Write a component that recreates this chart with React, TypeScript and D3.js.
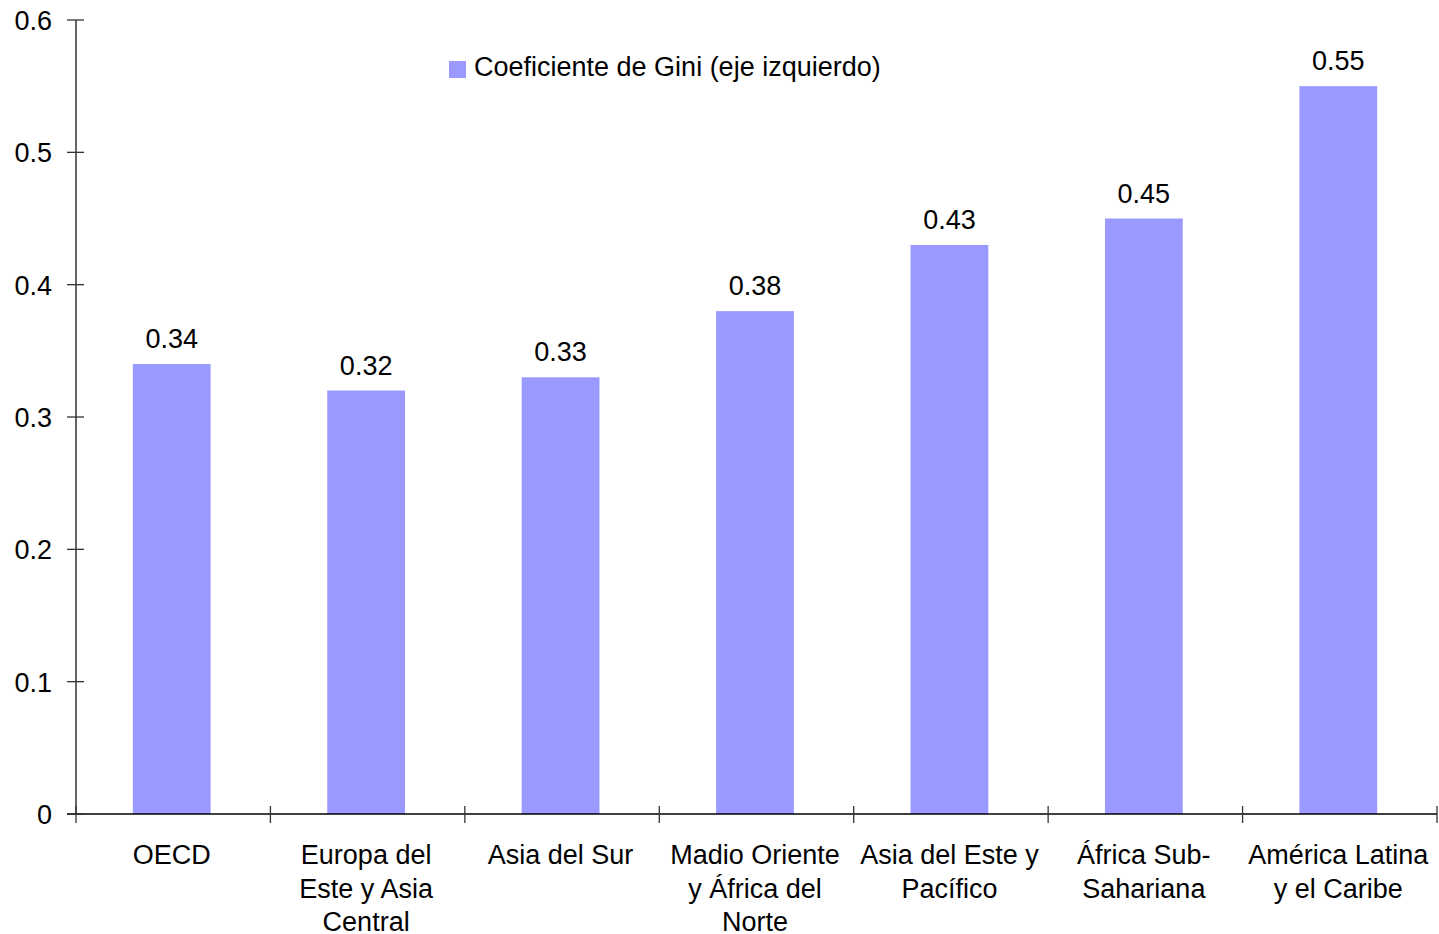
import React from "react";
import * as d3 from "d3";

const categories = [
  "OECD",
  "Europa del Este y Asia Central",
  "Asia del Sur",
  "Madio Oriente y África del Norte",
  "Asia del Este y Pacífico",
  "África Sub-Sahariana",
  "América Latina y el Caribe",
];
const categoryLines = [
  ["OECD"],
  ["Europa del", "Este y Asia", "Central"],
  ["Asia del Sur"],
  ["Madio Oriente", "y África del", "Norte"],
  ["Asia del Este y", "Pacífico"],
  ["África Sub-", "Sahariana"],
  ["América Latina", "y el Caribe"],
];
const giniValues = [0.34, 0.32, 0.33, 0.38, 0.43, 0.45, 0.55];
const yTicks = [0, 0.1, 0.2, 0.3, 0.4, 0.5, 0.6];
const seriesName = "Coeficiente de Gini (eje izquierdo)";

export default function App() {
  const W = 1439, H = 934;
  const left = 76, right = 1437, top = 20, bottom = 814;
  const x = d3.scaleBand<string>().domain(categories).range([left, right]).paddingInner(0).paddingOuter(0);
  const y = d3.scaleLinear().domain([0, 0.6]).range([bottom, top]);
  const bw = x.bandwidth() * 0.4;
  const font = "'Liberation Sans', Arial, sans-serif";
  const fs = 27;
  const axisColor = "#333";
  const bounds = [...categories.map((c) => x(c)!), right];
  return (
    <svg width={W} height={H} style={{ position: "absolute", left: 0, top: 0, display: "block" }} fontFamily={font}>
      <rect width={W} height={H} fill="#fff" />
      {categories.map((c, i) => {
        const cx = x(c)! + x.bandwidth() / 2 - 1.5;
        return (
          <g key={c}>
            <rect x={cx - bw / 2} y={y(giniValues[i])} width={bw} height={y(0) - y(giniValues[i])} fill="#9999FF" />
            <text x={cx} y={y(giniValues[i]) - 16} textAnchor="middle" fontSize={fs} fill="#000">
              {giniValues[i].toFixed(2)}
            </text>
            {categoryLines[i].map((l, j) => (
              <text key={j} x={cx} y={864 + j * 33.7} textAnchor="middle" fontSize={fs} fill="#000">
                {l}
              </text>
            ))}
          </g>
        );
      })}
      <line x1={left} x2={left} y1={top} y2={bottom} stroke={axisColor} strokeWidth={1.5} />
      <line x1={left - 9} x2={right} y1={bottom} y2={bottom} stroke="#000" strokeWidth={1.3} />
      {yTicks.map((t) => (
        <g key={t}>
          <line x1={left - 9} x2={left + 8} y1={y(t)} y2={y(t)} stroke={axisColor} strokeWidth={1.3} />
          <text x={52} y={y(t) + 10} textAnchor="end" fontSize={fs} fill="#000">
            {t === 0 ? "0" : d3.format(".1f")(t)}
          </text>
        </g>
      ))}
      {bounds.map((b, i) => (
        <line key={i} x1={b} x2={b} y1={bottom - 8} y2={bottom + 9} stroke={axisColor} strokeWidth={1.3} />
      ))}
      <rect x={449} y={61} width={17} height={17} fill="#9999FF" />
      <text x={474} y={75.5} fontSize={fs} fill="#000">{seriesName}</text>
    </svg>
  );
}
